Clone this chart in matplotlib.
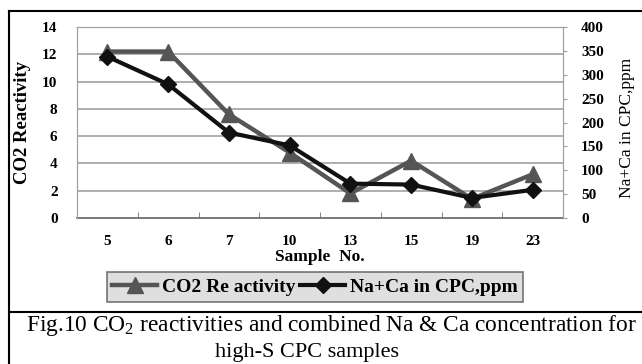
import matplotlib
matplotlib.use("Agg")
import matplotlib.pyplot as plt
from matplotlib.lines import Line2D
import numpy as np

plt.rcParams['font.family'] = ['Liberation Serif', 'DejaVu Serif']
plt.rcParams['mathtext.fontset'] = 'custom'
plt.rcParams['mathtext.rm'] = 'Liberation Serif'

samples = ['5', '6', '7', '10', '13', '15', '19', '23']
co2_reactivity = [12.2, 12.2, 7.6, 4.8, 1.8, 4.2, 1.4, 3.2]
na_ca_ppm = [338, 280, 179, 152, 72, 70, 42, 59]

W, H = 642, 364
fig = plt.figure(figsize=(W / 100, H / 100), dpi=100)
fig.patch.set_facecolor('white')

ax = fig.add_axes([77 / W, 1 - 218 / H, (563 - 77) / W, (218 - 27) / H])
ax2 = ax.twinx()

x = np.arange(len(samples))
l1, = ax.plot(x, co2_reactivity, color='#555555', lw=3.2, marker='^',
              markersize=11, zorder=3)
l2, = ax2.plot(x, na_ca_ppm, color='#111111', lw=3.0, marker='D',
               markersize=8, zorder=4)

ax.set_xlim(-0.5, len(samples) - 0.5)
ax.set_ylim(0, 14)
ax2.set_ylim(0, 400)
ax.set_yticks(np.arange(0, 15, 2))
ax2.set_yticks(np.arange(0, 401, 50))
ax.set_xticks(x)
ax.set_xticklabels(samples)
ax.set_xticks(np.arange(0.5, len(samples) - 0.5, 1), minor=True)

for yv in np.arange(2, 15, 2):
    ax.axhline(yv, color='#a8a8a8', lw=1.3, zorder=1)

for side in ['top', 'right', 'left']:
    ax.spines[side].set_color('#a0a0a0')
    ax2.spines[side].set_color('#a0a0a0')
ax.spines['bottom'].set_color('#707070')
ax2.spines['bottom'].set_visible(False)
ax.spines['bottom'].set_linewidth(1.3)

ax.tick_params(axis='x', which='major', length=0, pad=12, labelsize=11)
ax.tick_params(axis='x', which='minor', length=4, direction='in', color='#707070')
ax.tick_params(axis='y', length=0, pad=14, labelsize=11)
ax2.tick_params(axis='y', length=3, direction='out', color='#a0a0a0', pad=10, labelsize=11)
for lab in ax.get_xticklabels() + ax.get_yticklabels() + ax2.get_yticklabels():
    lab.set_fontweight('bold')

ax.set_ylabel('CO2 Reactivity', fontsize=13.5, fontweight='bold', labelpad=8)
ax2.set_ylabel('Na+Ca in CPC,ppm', fontsize=12.5, labelpad=6)
ax2.yaxis.set_label_coords(1.115, 0.47)
ax.set_xlabel('Sample  No.', fontsize=12.5, fontweight='bold', labelpad=1)

leg = fig.legend([l1, l2], ['CO2 Re activity', 'Na+Ca in CPC,ppm'],
                 loc='center', bbox_to_anchor=(315 / W, 1 - 287 / H),
                 ncol=2, frameon=True, fancybox=False,
                 handlelength=2.3, handletextpad=0.25, columnspacing=0.25,
                 borderpad=0.3, borderaxespad=0,
                 prop={'weight': 'bold', 'size': 14})
leg.get_frame().set_facecolor('#d8d8d8')
leg.get_frame().set_edgecolor('#555555')
leg.get_frame().set_linewidth(1.2)

# outer frame around the chart and the separator above the caption
fig.add_artist(Line2D([9 / W, 9 / W], [0, 1 - 11 / H], color='black', lw=1.5))
fig.add_artist(Line2D([9 / W, 1], [1 - 11 / H, 1 - 11 / H], color='black', lw=1.5))
fig.add_artist(Line2D([9 / W, 1], [1 - 312 / H, 1 - 312 / H], color='black', lw=1.5))

fig.text(331 / W, 1 - 326 / H,
         'Fig.10 CO$_2$ reactivities and combined Na & Ca concentration for',
         ha='center', va='center', fontsize=16.8)
fig.text(307 / W, 1 - 352 / H, 'high-S CPC samples',
         ha='center', va='center', fontsize=16)

fig.savefig('out.png', dpi=100)
